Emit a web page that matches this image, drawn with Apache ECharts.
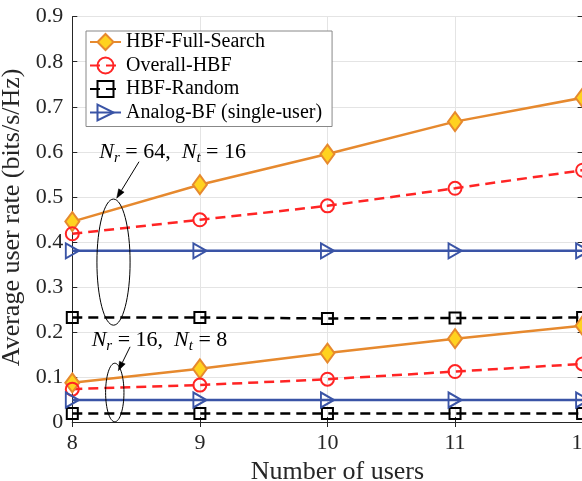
<!DOCTYPE html>
<html>
<head>
<meta charset="utf-8">
<script src="https://cdn.jsdelivr.net/npm/echarts@6/dist/echarts.min.js"></script>
<style>
  html, body { margin: 0; padding: 0; background: #fff; }
  #chart { width: 582px; height: 481px; }
</style>
</head>
<body>
<div id="chart"></div>
<script>
// Number of users on the horizontal axis
const users = [8, 9, 10, 11, 12];
const yTicks = [0, 0.1, 0.2, 0.3, 0.4, 0.5, 0.6, 0.7, 0.8, 0.9];

// N_r = 64, N_t = 16
const fullSearch64 = [0.445, 0.527, 0.595, 0.667, 0.720];
const overall64    = [0.418, 0.449, 0.480, 0.519, 0.559];
const random64     = [0.232, 0.232, 0.230, 0.231, 0.232];
const analog64     = [0.380, 0.380, 0.380, 0.380, 0.380];

// N_r = 16, N_t = 8
const fullSearch16 = [0.087, 0.118, 0.153, 0.185, 0.214];
const overall16    = [0.073, 0.082, 0.095, 0.112, 0.129];
const random16     = [0.019, 0.019, 0.019, 0.019, 0.019];
const analog16     = [0.049, 0.049, 0.049, 0.049, 0.049];

const names = ['HBF-Full-Search', 'Overall-HBF', 'HBF-Random', 'Analog-BF (single-user)'];

// Call-outs grouping each antenna configuration (data coordinates)
const noteLabels = [['64', '16'], ['16', '8']];
const noteText   = [[8.212, 0.600], [8.152, 0.182]];
const noteOval   = [[8.323, 0.355, 0.130, 0.140], [8.333, 0.0655, 0.072, 0.065]];
const noteArrow  = [[8.523, 0.578, 8.348, 0.497], [8.453, 0.167, 8.361, 0.114]];

const FONT = 'Liberation Serif';
const ORANGE = '#E6892E', GOLD = '#FFD21F', RED = '#FF2424', BLUE = '#3A54A6', BLACK = '#000';
const AXIS = '#262626', GRID = '#e4e4e4';

const pairs = arr => users.map((u, i) => [u, arr[i]]);

const styles = [
  { line: ORANGE, type: 'solid', symbol: 'diamond', size: [14, 19], fill: GOLD, rot: 0 },
  { line: RED, type: [10, 6], symbol: 'circle', size: 13, fill: 'rgba(0,0,0,0)', rot: 0 },
  { line: BLACK, type: [10, 6], symbol: 'rect', size: 11, fill: 'rgba(0,0,0,0)', rot: 0 },
  { line: BLUE, type: 'solid', symbol: 'triangle', size: [15, 13], fill: 'rgba(0,0,0,0)', rot: -90 }
];

function makeSeries(idx, values) {
  const s = styles[idx];
  return {
    type: 'line',
    name: names[idx],
    data: pairs(values),
    symbol: s.symbol,
    symbolSize: s.size,
    symbolRotate: s.rot,
    showAllSymbol: true,
    lineStyle: { color: s.line, width: 2.5, type: s.type },
    itemStyle: { color: s.fill, borderColor: s.line, borderWidth: 2 },
    emphasis: { disabled: true },
    z: 3
  };
}

const series = [
  makeSeries(0, fullSearch64), makeSeries(1, overall64), makeSeries(2, random64), makeSeries(3, analog64),
  makeSeries(0, fullSearch16), makeSeries(1, overall16), makeSeries(2, random16), makeSeries(3, analog16)
];

const tickFont = { fontFamily: FONT, fontSize: 22, color: '#262626' };

const chart = echarts.init(document.getElementById('chart'), null, { renderer: 'canvas' });

chart.setOption({
  animation: false,
  backgroundColor: '#fff',
  grid: { left: 72.3, top: 16.7, width: 510.3, height: 405.3, containLabel: false, outerBoundsMode: 'none' },
  xAxis: [{
    type: 'value',
    min: users[0], max: users[users.length - 1], interval: 1,
    name: 'Number of users',
    nameLocation: 'middle', nameGap: 28,
    nameTextStyle: { fontFamily: FONT, fontSize: 26, color: '#262626', padding: [0, 0, 0, 20] },
    axisLine: { show: true, lineStyle: { color: AXIS, width: 1 } },
    axisTick: { show: true, inside: true, length: 5, lineStyle: { color: AXIS } },
    axisLabel: Object.assign({ margin: 10, showMaxLabel: true }, tickFont),
    splitLine: { show: true, lineStyle: { color: GRID, width: 1 } }
  }, {
    type: 'value', position: 'top',
    min: users[0], max: users[users.length - 1], interval: 1,
    axisLine: { show: true, lineStyle: { color: AXIS, width: 1 } },
    axisTick: { show: true, inside: true, length: 5, lineStyle: { color: AXIS } },
    axisLabel: { show: false },
    splitLine: { show: false }
  }],
  yAxis: [{
    type: 'value',
    min: yTicks[0], max: yTicks[yTicks.length - 1], interval: 0.1,
    name: 'Average user rate (bits/s/Hz)',
    nameLocation: 'middle', nameGap: 31, nameRotate: 90,
    nameTextStyle: { fontFamily: FONT, fontSize: 26, color: '#262626', padding: [0, 0, 0, 4] },
    axisLine: { show: true, lineStyle: { color: AXIS, width: 1 } },
    axisTick: { show: true, inside: true, length: 5, lineStyle: { color: AXIS } },
    axisLabel: Object.assign({ margin: 9, formatter: v => String(Math.round(v * 10) / 10) }, tickFont),
    splitLine: { show: true, lineStyle: { color: GRID, width: 1 } }
  }, {
    type: 'value', position: 'right',
    min: yTicks[0], max: yTicks[yTicks.length - 1], interval: 0.1,
    axisLine: { show: true, lineStyle: { color: AXIS, width: 1 } },
    axisTick: { show: true, inside: true, length: 5, lineStyle: { color: AXIS } },
    axisLabel: { show: false },
    splitLine: { show: false }
  }],
  legend: {
    data: names,
    orient: 'vertical',
    left: 86, top: 31,
    itemWidth: 31, itemHeight: 20, itemGap: 3.5,
    padding: [1, 10, 4, 3],
    borderColor: '#888', borderWidth: 1, borderRadius: 0,
    backgroundColor: '#fff',
    textStyle: { fontFamily: FONT, fontSize: 20, color: '#000' },
    selectedMode: false
  },
  series: series
});

// Call-out ellipses, arrows and configuration labels
const px = (x, y) => chart.convertToPixel({ xAxisIndex: 0, yAxisIndex: 0 }, [x, y]);
const graphics = [];
const rich = {
  it: { fontFamily: FONT, fontStyle: 'italic', fontSize: 22, fill: '#000', color: '#000', lineHeight: 28, verticalAlign: 'middle' },
  rm: { fontFamily: FONT, fontSize: 22, fill: '#000', color: '#000', lineHeight: 28, verticalAlign: 'middle' },
  sub: { fontFamily: FONT, fontStyle: 'italic', fontSize: 15, fill: '#000', color: '#000', lineHeight: 28, verticalAlign: 'bottom' }
};
noteLabels.forEach((lab, i) => {
  const t = px(noteText[i][0], noteText[i][1]);
  graphics.push({
    type: 'text', x: t[0], y: t[1], z: 20,
    style: {
      text: '{it|N}{sub|r}{rm| = ' + lab[0] + ',  }{it|N}{sub|t}{rm| = ' + lab[1] + '}',
      rich: rich, align: 'left', verticalAlign: 'middle'
    }
  });
  const o = noteOval[i];
  const c = px(o[0], o[1]);
  const e = px(o[0] + o[2], o[1] + o[3]);
  graphics.push({
    type: 'ellipse', z: 20,
    shape: { cx: c[0], cy: c[1], rx: Math.abs(e[0] - c[0]), ry: Math.abs(c[1] - e[1]) },
    style: { fill: 'none', stroke: '#000', lineWidth: 1 }
  });
  const a = noteArrow[i];
  const p1 = px(a[0], a[1]), p2 = px(a[2], a[3]);
  const dx = p2[0] - p1[0], dy = p2[1] - p1[1];
  const len = Math.hypot(dx, dy), ux = dx / len, uy = dy / len;
  const hl = 9, hw = 3.2;
  const bx = p2[0] - ux * hl, by = p2[1] - uy * hl;
  graphics.push({
    type: 'line', z: 20,
    shape: { x1: p1[0], y1: p1[1], x2: bx, y2: by },
    style: { stroke: '#000', lineWidth: 1 }
  });
  graphics.push({
    type: 'polygon', z: 20,
    shape: { points: [[p2[0], p2[1]], [bx - uy * hw, by + ux * hw], [bx + uy * hw, by - ux * hw]] },
    style: { fill: '#000', stroke: '#000', lineWidth: 0.5 }
  });
});
chart.setOption({ graphic: graphics });
</script>
</body>
</html>
